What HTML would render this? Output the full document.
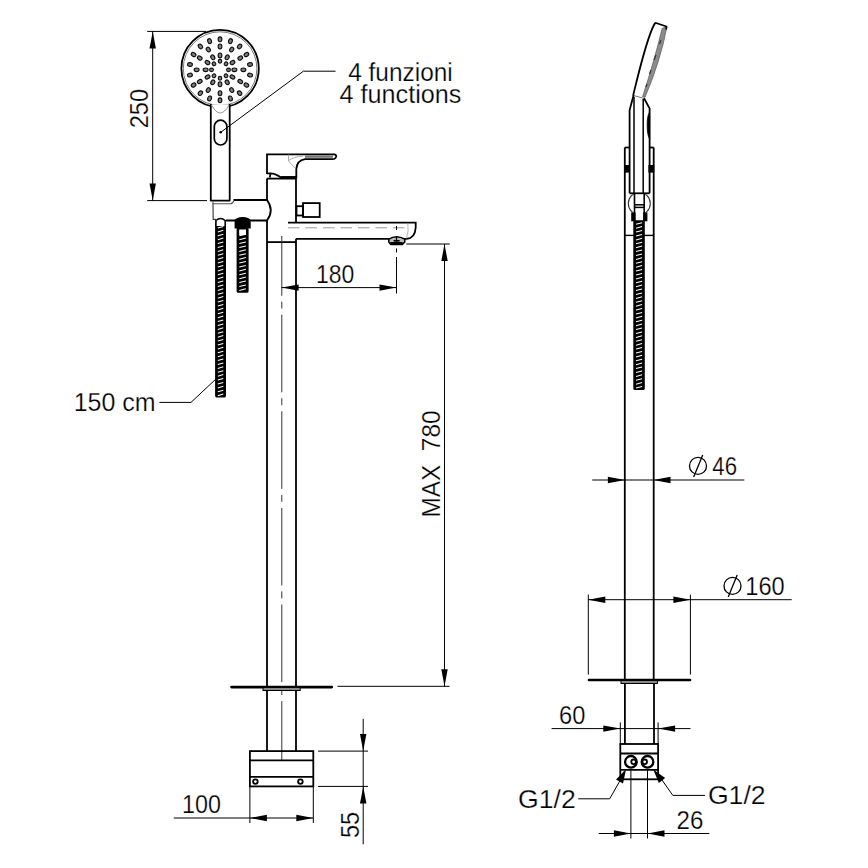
<!DOCTYPE html>
<html><head><meta charset="utf-8"><style>
html,body{margin:0;padding:0;background:#fff;width:868px;height:868px;overflow:hidden}
svg{display:block}
text{font-family:"Liberation Sans",sans-serif;fill:#000;stroke:#fff;stroke-width:0.25px}
</style></head><body>
<svg width="868" height="868" viewBox="0 0 868 868">
<rect width="868" height="868" fill="#fff"/>
<ellipse cx="228.50" cy="69.80" rx="1.9" ry="1.75" transform="rotate(-0.0 228.50 69.80)" fill="#808080" stroke="#111" stroke-width="1.15"/>
<ellipse cx="226.01" cy="63.79" rx="1.9" ry="1.75" transform="rotate(-45.0 226.01 63.79)" fill="#808080" stroke="#111" stroke-width="1.15"/>
<ellipse cx="220.00" cy="61.30" rx="1.9" ry="1.75" transform="rotate(-90.0 220.00 61.30)" fill="#808080" stroke="#111" stroke-width="1.15"/>
<ellipse cx="213.99" cy="63.79" rx="1.9" ry="1.75" transform="rotate(-135.0 213.99 63.79)" fill="#808080" stroke="#111" stroke-width="1.15"/>
<ellipse cx="211.50" cy="69.80" rx="1.9" ry="1.75" transform="rotate(-180.0 211.50 69.80)" fill="#808080" stroke="#111" stroke-width="1.15"/>
<ellipse cx="213.99" cy="75.81" rx="1.9" ry="1.75" transform="rotate(-225.0 213.99 75.81)" fill="#808080" stroke="#111" stroke-width="1.15"/>
<ellipse cx="220.00" cy="78.30" rx="1.9" ry="1.75" transform="rotate(-270.0 220.00 78.30)" fill="#808080" stroke="#111" stroke-width="1.15"/>
<ellipse cx="226.01" cy="75.81" rx="1.9" ry="1.75" transform="rotate(-315.0 226.01 75.81)" fill="#808080" stroke="#111" stroke-width="1.15"/>
<ellipse cx="234.40" cy="69.80" rx="2.45" ry="1.85" transform="rotate(-0.0 234.40 69.80)" fill="#808080" stroke="#111" stroke-width="1.15"/>
<ellipse cx="232.47" cy="62.60" rx="2.45" ry="1.85" transform="rotate(-30.0 232.47 62.60)" fill="#808080" stroke="#111" stroke-width="1.15"/>
<ellipse cx="227.20" cy="57.33" rx="2.45" ry="1.85" transform="rotate(-60.0 227.20 57.33)" fill="#808080" stroke="#111" stroke-width="1.15"/>
<ellipse cx="220.00" cy="55.40" rx="2.45" ry="1.85" transform="rotate(-90.0 220.00 55.40)" fill="#808080" stroke="#111" stroke-width="1.15"/>
<ellipse cx="212.80" cy="57.33" rx="2.45" ry="1.85" transform="rotate(-120.0 212.80 57.33)" fill="#808080" stroke="#111" stroke-width="1.15"/>
<ellipse cx="207.53" cy="62.60" rx="2.45" ry="1.85" transform="rotate(-150.0 207.53 62.60)" fill="#808080" stroke="#111" stroke-width="1.15"/>
<ellipse cx="205.60" cy="69.80" rx="2.45" ry="1.85" transform="rotate(-180.0 205.60 69.80)" fill="#808080" stroke="#111" stroke-width="1.15"/>
<ellipse cx="207.53" cy="77.00" rx="2.45" ry="1.85" transform="rotate(-210.0 207.53 77.00)" fill="#808080" stroke="#111" stroke-width="1.15"/>
<ellipse cx="212.80" cy="82.27" rx="2.45" ry="1.85" transform="rotate(-240.0 212.80 82.27)" fill="#808080" stroke="#111" stroke-width="1.15"/>
<ellipse cx="220.00" cy="84.20" rx="2.45" ry="1.85" transform="rotate(-270.0 220.00 84.20)" fill="#808080" stroke="#111" stroke-width="1.15"/>
<ellipse cx="227.20" cy="82.27" rx="2.45" ry="1.85" transform="rotate(-300.0 227.20 82.27)" fill="#808080" stroke="#111" stroke-width="1.15"/>
<ellipse cx="232.47" cy="77.00" rx="2.45" ry="1.85" transform="rotate(-330.0 232.47 77.00)" fill="#808080" stroke="#111" stroke-width="1.15"/>
<ellipse cx="243.40" cy="69.80" rx="2.45" ry="1.85" transform="rotate(-0.0 243.40 69.80)" fill="#808080" stroke="#111" stroke-width="1.15"/>
<ellipse cx="240.26" cy="58.10" rx="2.45" ry="1.85" transform="rotate(-30.0 240.26 58.10)" fill="#808080" stroke="#111" stroke-width="1.15"/>
<ellipse cx="231.70" cy="49.54" rx="2.45" ry="1.85" transform="rotate(-60.0 231.70 49.54)" fill="#808080" stroke="#111" stroke-width="1.15"/>
<ellipse cx="220.00" cy="46.40" rx="2.45" ry="1.85" transform="rotate(-90.0 220.00 46.40)" fill="#808080" stroke="#111" stroke-width="1.15"/>
<ellipse cx="208.30" cy="49.54" rx="2.45" ry="1.85" transform="rotate(-120.0 208.30 49.54)" fill="#808080" stroke="#111" stroke-width="1.15"/>
<ellipse cx="199.74" cy="58.10" rx="2.45" ry="1.85" transform="rotate(-150.0 199.74 58.10)" fill="#808080" stroke="#111" stroke-width="1.15"/>
<ellipse cx="196.60" cy="69.80" rx="2.45" ry="1.85" transform="rotate(-180.0 196.60 69.80)" fill="#808080" stroke="#111" stroke-width="1.15"/>
<ellipse cx="199.74" cy="81.50" rx="2.45" ry="1.85" transform="rotate(-210.0 199.74 81.50)" fill="#808080" stroke="#111" stroke-width="1.15"/>
<ellipse cx="208.30" cy="90.06" rx="2.45" ry="1.85" transform="rotate(-240.0 208.30 90.06)" fill="#808080" stroke="#111" stroke-width="1.15"/>
<ellipse cx="220.00" cy="93.20" rx="2.45" ry="1.85" transform="rotate(-270.0 220.00 93.20)" fill="#808080" stroke="#111" stroke-width="1.15"/>
<ellipse cx="231.70" cy="90.06" rx="2.45" ry="1.85" transform="rotate(-300.0 231.70 90.06)" fill="#808080" stroke="#111" stroke-width="1.15"/>
<ellipse cx="240.26" cy="81.50" rx="2.45" ry="1.85" transform="rotate(-330.0 240.26 81.50)" fill="#808080" stroke="#111" stroke-width="1.15"/>
<ellipse cx="250.04" cy="64.50" rx="2.45" ry="1.85" transform="rotate(-10.0 250.04 64.50)" fill="#808080" stroke="#111" stroke-width="1.15"/>
<ellipse cx="246.41" cy="54.55" rx="2.45" ry="1.85" transform="rotate(-30.0 246.41 54.55)" fill="#808080" stroke="#111" stroke-width="1.15"/>
<ellipse cx="239.61" cy="46.44" rx="2.45" ry="1.85" transform="rotate(-50.0 239.61 46.44)" fill="#808080" stroke="#111" stroke-width="1.15"/>
<ellipse cx="230.43" cy="41.14" rx="2.45" ry="1.85" transform="rotate(-70.0 230.43 41.14)" fill="#808080" stroke="#111" stroke-width="1.15"/>
<ellipse cx="220.00" cy="39.30" rx="2.45" ry="1.85" transform="rotate(-90.0 220.00 39.30)" fill="#808080" stroke="#111" stroke-width="1.15"/>
<ellipse cx="209.57" cy="41.14" rx="2.45" ry="1.85" transform="rotate(-110.0 209.57 41.14)" fill="#808080" stroke="#111" stroke-width="1.15"/>
<ellipse cx="200.39" cy="46.44" rx="2.45" ry="1.85" transform="rotate(-130.0 200.39 46.44)" fill="#808080" stroke="#111" stroke-width="1.15"/>
<ellipse cx="193.59" cy="54.55" rx="2.45" ry="1.85" transform="rotate(-150.0 193.59 54.55)" fill="#808080" stroke="#111" stroke-width="1.15"/>
<ellipse cx="189.96" cy="64.50" rx="2.45" ry="1.85" transform="rotate(-170.0 189.96 64.50)" fill="#808080" stroke="#111" stroke-width="1.15"/>
<ellipse cx="189.96" cy="75.10" rx="2.45" ry="1.85" transform="rotate(-190.0 189.96 75.10)" fill="#808080" stroke="#111" stroke-width="1.15"/>
<ellipse cx="193.59" cy="85.05" rx="2.45" ry="1.85" transform="rotate(-210.0 193.59 85.05)" fill="#808080" stroke="#111" stroke-width="1.15"/>
<ellipse cx="200.39" cy="93.16" rx="2.45" ry="1.85" transform="rotate(-230.0 200.39 93.16)" fill="#808080" stroke="#111" stroke-width="1.15"/>
<ellipse cx="209.57" cy="98.46" rx="2.45" ry="1.85" transform="rotate(-250.0 209.57 98.46)" fill="#808080" stroke="#111" stroke-width="1.15"/>
<ellipse cx="220.00" cy="100.30" rx="2.45" ry="1.85" transform="rotate(-270.0 220.00 100.30)" fill="#808080" stroke="#111" stroke-width="1.15"/>
<ellipse cx="230.43" cy="98.46" rx="2.45" ry="1.85" transform="rotate(-290.0 230.43 98.46)" fill="#808080" stroke="#111" stroke-width="1.15"/>
<ellipse cx="239.61" cy="93.16" rx="2.45" ry="1.85" transform="rotate(-310.0 239.61 93.16)" fill="#808080" stroke="#111" stroke-width="1.15"/>
<ellipse cx="246.41" cy="85.05" rx="2.45" ry="1.85" transform="rotate(-330.0 246.41 85.05)" fill="#808080" stroke="#111" stroke-width="1.15"/>
<ellipse cx="250.04" cy="75.10" rx="2.45" ry="1.85" transform="rotate(-350.0 250.04 75.10)" fill="#808080" stroke="#111" stroke-width="1.15"/>
<circle cx="220.1" cy="68.6" r="38.7" fill="none" stroke="#000" stroke-width="1.8"/>
<circle cx="220.1" cy="68.6" r="36.80" fill="none" stroke="#555" stroke-width="0.8"/>
<rect x="210.8" y="104.5" width="18.9" height="96.3" fill="#fff" stroke="none"/>
<line x1="210.8" y1="104" x2="210.8" y2="201" stroke="#000" stroke-width="1.8" />
<line x1="229.7" y1="104" x2="229.7" y2="201" stroke="#000" stroke-width="1.8" />
<path d="M211.5,105 Q220.2,121 229,105" fill="none" stroke="#888" stroke-width="0.9"/>
<rect x="214.3" y="120.2" width="12.6" height="24.8" rx="6.3" fill="none" stroke="#000" stroke-width="1.7"/>
<circle cx="220.7" cy="132.3" r="1.3" fill="#000"/>
<polyline points="220.7,132.3 303.4,71.2 335.6,71.2" fill="none" stroke="#000" stroke-width="1"/>
<line x1="147.2" y1="31.4" x2="206" y2="31.4" stroke="#000" stroke-width="1.0" />
<line x1="147.2" y1="200.6" x2="207" y2="200.6" stroke="#000" stroke-width="1.0" />
<line x1="152.7" y1="31.4" x2="152.7" y2="200.6" stroke="#000" stroke-width="1.0" />
<polygon points="152.70,31.40 149.50,48.40 155.90,48.40" fill="#000"/>
<polygon points="152.70,200.60 149.50,183.60 155.90,183.60" fill="#000"/>
<path d="M212.9,200 L267,200 Q274.5,210.3 267,220.5 L212.9,220.5 Z" fill="#fff" stroke="none"/>
<path d="M233.5,200 L267,200 Q274.5,210.3 267,220.5 L226,220.5" fill="none" stroke="#000" stroke-width="1.8"/>
<path d="M213,203.5 L213.2,219.3 L216,219.3" fill="none" stroke="#444" stroke-width="1.2"/>
<path d="M210.8,200.6 L229.7,200.6" stroke="#000" stroke-width="1.8" stroke-linecap="round"/>
<path d="M213,201.5 L213,203.8 L230.5,203.8 Q232.5,203.8 234,200.5" fill="none" stroke="#555" stroke-width="1.1"/>
<rect x="215.9" y="224" width="9.299999999999983" height="172.60000000000002" fill="#000" stroke="#000" stroke-width="1.6" rx="0.8"/>
<line x1="217.8" y1="228.00" x2="223.29999999999998" y2="226.40" stroke="#fff" stroke-width="1.05"/>
<line x1="217.8" y1="231.90" x2="223.29999999999998" y2="230.30" stroke="#fff" stroke-width="1.05"/>
<line x1="217.8" y1="235.80" x2="223.29999999999998" y2="234.20" stroke="#fff" stroke-width="1.05"/>
<line x1="217.8" y1="239.70" x2="223.29999999999998" y2="238.10" stroke="#fff" stroke-width="1.05"/>
<line x1="217.8" y1="243.60" x2="223.29999999999998" y2="242.00" stroke="#fff" stroke-width="1.05"/>
<line x1="217.8" y1="247.50" x2="223.29999999999998" y2="245.90" stroke="#fff" stroke-width="1.05"/>
<line x1="217.8" y1="251.40" x2="223.29999999999998" y2="249.80" stroke="#fff" stroke-width="1.05"/>
<line x1="217.8" y1="255.30" x2="223.29999999999998" y2="253.70" stroke="#fff" stroke-width="1.05"/>
<line x1="217.8" y1="259.20" x2="223.29999999999998" y2="257.60" stroke="#fff" stroke-width="1.05"/>
<line x1="217.8" y1="263.10" x2="223.29999999999998" y2="261.50" stroke="#fff" stroke-width="1.05"/>
<line x1="217.8" y1="267.00" x2="223.29999999999998" y2="265.40" stroke="#fff" stroke-width="1.05"/>
<line x1="217.8" y1="270.90" x2="223.29999999999998" y2="269.30" stroke="#fff" stroke-width="1.05"/>
<line x1="217.8" y1="274.80" x2="223.29999999999998" y2="273.20" stroke="#fff" stroke-width="1.05"/>
<line x1="217.8" y1="278.70" x2="223.29999999999998" y2="277.10" stroke="#fff" stroke-width="1.05"/>
<line x1="217.8" y1="282.60" x2="223.29999999999998" y2="281.00" stroke="#fff" stroke-width="1.05"/>
<line x1="217.8" y1="286.50" x2="223.29999999999998" y2="284.90" stroke="#fff" stroke-width="1.05"/>
<line x1="217.8" y1="290.40" x2="223.29999999999998" y2="288.80" stroke="#fff" stroke-width="1.05"/>
<line x1="217.8" y1="294.30" x2="223.29999999999998" y2="292.70" stroke="#fff" stroke-width="1.05"/>
<line x1="217.8" y1="298.20" x2="223.29999999999998" y2="296.60" stroke="#fff" stroke-width="1.05"/>
<line x1="217.8" y1="302.10" x2="223.29999999999998" y2="300.50" stroke="#fff" stroke-width="1.05"/>
<line x1="217.8" y1="306.00" x2="223.29999999999998" y2="304.40" stroke="#fff" stroke-width="1.05"/>
<line x1="217.8" y1="309.90" x2="223.29999999999998" y2="308.30" stroke="#fff" stroke-width="1.05"/>
<line x1="217.8" y1="313.80" x2="223.29999999999998" y2="312.20" stroke="#fff" stroke-width="1.05"/>
<line x1="217.8" y1="317.70" x2="223.29999999999998" y2="316.10" stroke="#fff" stroke-width="1.05"/>
<line x1="217.8" y1="321.60" x2="223.29999999999998" y2="320.00" stroke="#fff" stroke-width="1.05"/>
<line x1="217.8" y1="325.50" x2="223.29999999999998" y2="323.90" stroke="#fff" stroke-width="1.05"/>
<line x1="217.8" y1="329.40" x2="223.29999999999998" y2="327.80" stroke="#fff" stroke-width="1.05"/>
<line x1="217.8" y1="333.30" x2="223.29999999999998" y2="331.70" stroke="#fff" stroke-width="1.05"/>
<line x1="217.8" y1="337.20" x2="223.29999999999998" y2="335.60" stroke="#fff" stroke-width="1.05"/>
<line x1="217.8" y1="341.10" x2="223.29999999999998" y2="339.50" stroke="#fff" stroke-width="1.05"/>
<line x1="217.8" y1="345.00" x2="223.29999999999998" y2="343.40" stroke="#fff" stroke-width="1.05"/>
<line x1="217.8" y1="348.90" x2="223.29999999999998" y2="347.30" stroke="#fff" stroke-width="1.05"/>
<line x1="217.8" y1="352.80" x2="223.29999999999998" y2="351.20" stroke="#fff" stroke-width="1.05"/>
<line x1="217.8" y1="356.70" x2="223.29999999999998" y2="355.10" stroke="#fff" stroke-width="1.05"/>
<line x1="217.8" y1="360.60" x2="223.29999999999998" y2="359.00" stroke="#fff" stroke-width="1.05"/>
<line x1="217.8" y1="364.50" x2="223.29999999999998" y2="362.90" stroke="#fff" stroke-width="1.05"/>
<line x1="217.8" y1="368.40" x2="223.29999999999998" y2="366.80" stroke="#fff" stroke-width="1.05"/>
<line x1="217.8" y1="372.30" x2="223.29999999999998" y2="370.70" stroke="#fff" stroke-width="1.05"/>
<line x1="217.8" y1="376.20" x2="223.29999999999998" y2="374.60" stroke="#fff" stroke-width="1.05"/>
<line x1="217.8" y1="380.10" x2="223.29999999999998" y2="378.50" stroke="#fff" stroke-width="1.05"/>
<line x1="217.8" y1="384.00" x2="223.29999999999998" y2="382.40" stroke="#fff" stroke-width="1.05"/>
<line x1="217.8" y1="387.90" x2="223.29999999999998" y2="386.30" stroke="#fff" stroke-width="1.05"/>
<line x1="217.8" y1="391.80" x2="223.29999999999998" y2="390.20" stroke="#fff" stroke-width="1.05"/>
<line x1="217.8" y1="395.70" x2="223.29999999999998" y2="394.10" stroke="#fff" stroke-width="1.05"/>
<path d="M215.9,226 L215.9,220.5 Q220.5,216.5 225.2,220.5 L225.2,226" fill="#fff" stroke="#000" stroke-width="1.6"/>
<path d="M234.6,228.6 L234.6,220.5 Q236,217 242.6,217 Q249.3,217 250.7,220.5 L250.7,228.6 Z" fill="#000"/>
<rect x="237.4" y="228.6" width="10.400000000000006" height="63.400000000000006" fill="#000" stroke="#000" stroke-width="1.6" rx="0.8"/>
<line x1="239.3" y1="231.90" x2="245.9" y2="230.30" stroke="#fff" stroke-width="1.05"/>
<line x1="239.3" y1="235.80" x2="245.9" y2="234.20" stroke="#fff" stroke-width="1.05"/>
<line x1="239.3" y1="239.70" x2="245.9" y2="238.10" stroke="#fff" stroke-width="1.05"/>
<line x1="239.3" y1="243.60" x2="245.9" y2="242.00" stroke="#fff" stroke-width="1.05"/>
<line x1="239.3" y1="247.50" x2="245.9" y2="245.90" stroke="#fff" stroke-width="1.05"/>
<line x1="239.3" y1="251.40" x2="245.9" y2="249.80" stroke="#fff" stroke-width="1.05"/>
<line x1="239.3" y1="255.30" x2="245.9" y2="253.70" stroke="#fff" stroke-width="1.05"/>
<line x1="239.3" y1="259.20" x2="245.9" y2="257.60" stroke="#fff" stroke-width="1.05"/>
<line x1="239.3" y1="263.10" x2="245.9" y2="261.50" stroke="#fff" stroke-width="1.05"/>
<line x1="239.3" y1="267.00" x2="245.9" y2="265.40" stroke="#fff" stroke-width="1.05"/>
<line x1="239.3" y1="270.90" x2="245.9" y2="269.30" stroke="#fff" stroke-width="1.05"/>
<line x1="239.3" y1="274.80" x2="245.9" y2="273.20" stroke="#fff" stroke-width="1.05"/>
<line x1="239.3" y1="278.70" x2="245.9" y2="277.10" stroke="#fff" stroke-width="1.05"/>
<line x1="239.3" y1="282.60" x2="245.9" y2="281.00" stroke="#fff" stroke-width="1.05"/>
<line x1="239.3" y1="286.50" x2="245.9" y2="284.90" stroke="#fff" stroke-width="1.05"/>
<line x1="239.3" y1="290.40" x2="245.9" y2="288.80" stroke="#fff" stroke-width="1.05"/>
<rect x="239.2" y="229.5" width="6.8" height="5.5" fill="#fff"/>
<polyline points="215.5,379.4 191,402.4 159.4,402.4" fill="none" stroke="#000" stroke-width="1"/>
<path d="M267,174 L267,154.4 L334.5,154.4 Q337.5,155.5 335.5,158 Q334.5,159.2 332,159.2 L305,159.2 Q297,160.5 296.3,169 L296.3,178.6" fill="none" stroke="#000" stroke-width="1.8"/>
<path d="M305,156.6 L333,156.6" stroke="#777" stroke-width="2.4"/>
<path d="M267,173.4 L270.5,173.4 L269.8,177.5 M270.5,173.4 Q274,173 281,177.4 L296.3,177.4" fill="none" stroke="#000" stroke-width="1.8"/>
<path d="M281,177.4 L296.3,177.4" stroke="#000" stroke-width="2.6"/>
<path d="M288.5,154.5 L288.5,161 L295,168 M289,160.5 Q293,157 303,156" fill="none" stroke="#999" stroke-width="0.8"/>
<line x1="267" y1="178.6" x2="267" y2="200" stroke="#000" stroke-width="1.8" />
<line x1="267" y1="220.5" x2="267" y2="688" stroke="#000" stroke-width="1.8" />
<line x1="267" y1="178.6" x2="296.3" y2="178.6" stroke="#000" stroke-width="1.8" />
<line x1="296" y1="178.6" x2="296" y2="222.7" stroke="#000" stroke-width="1.8" />
<line x1="267" y1="242.1" x2="296" y2="242.1" stroke="#000" stroke-width="1.8" />
<line x1="296" y1="238.8" x2="296" y2="688" stroke="#000" stroke-width="1.8" />
<rect x="296.5" y="206.2" width="6.5" height="9.3" fill="none" stroke="#000" stroke-width="1.8"/>
<rect x="303" y="203.1" width="16.7" height="13.9" fill="none" stroke="#000" stroke-width="1.8"/>
<path d="M288,222.7 L415.7,222.7 L415.7,227.5 Q415,238.5 406.5,238.8 L296,238.8" fill="none" stroke="#000" stroke-width="1.8"/>
<path d="M288,227.8 L408,227.8" stroke="#999" stroke-width="1" stroke-dasharray="11.5,6"/>
<path d="M407.8,223 Q409,231 406.5,238.5" fill="none" stroke="#999" stroke-width="0.7"/>
<path d="M388.8,239.2 Q396.5,234.2 404.8,239.2 L404.8,242 L402.4,244.4 L390.6,244.4 L388.8,242 Z" fill="#bbb" stroke="#000" stroke-width="1.5" stroke-linejoin="round"/>
<rect x="390.4" y="242" width="12.2" height="2.6" fill="#000"/>
<rect x="393.6" y="240" width="6" height="1.6" fill="#000"/>
<line x1="396.5" y1="236.5" x2="396.5" y2="242" stroke="#000" stroke-width="1.2" />
<line x1="396.5" y1="248.5" x2="396.5" y2="252.5" stroke="#000" stroke-width="1" />
<line x1="396.5" y1="257" x2="396.5" y2="293.5" stroke="#000" stroke-width="1" />
<line x1="396.5" y1="226" x2="396.5" y2="230" stroke="#000" stroke-width="1" />
<line x1="281.8" y1="236" x2="281.8" y2="760.4" stroke="#333" stroke-width="1" stroke-dasharray="77.6,5.9,7,6.1" stroke-dashoffset="17.9"/>
<line x1="281.6" y1="287.6" x2="396.5" y2="287.6" stroke="#000" stroke-width="1.0" />
<polygon points="281.60,287.60 298.60,284.40 298.60,290.80" fill="#000"/>
<polygon points="396.50,287.60 379.50,284.40 379.50,290.80" fill="#000"/>
<line x1="406.3" y1="244" x2="449.7" y2="244" stroke="#555" stroke-width="1.4" />
<line x1="337.5" y1="686.3" x2="449.5" y2="686.3" stroke="#000" stroke-width="1.0" />
<line x1="444.5" y1="244" x2="444.5" y2="686.3" stroke="#000" stroke-width="1.0" />
<polygon points="444.50,244.00 441.30,261.00 447.70,261.00" fill="#000"/>
<polygon points="444.50,686.30 441.30,669.30 447.70,669.30" fill="#000"/>
<line x1="231.5" y1="687.1" x2="331.8" y2="687.1" stroke="#000" stroke-width="2.6" stroke-linecap="round"/>
<rect x="263" y="687.5" width="37.2" height="3" fill="#888" stroke="#000" stroke-width="1"/>
<line x1="267" y1="690.5" x2="267" y2="751" stroke="#000" stroke-width="1.8" />
<line x1="296" y1="690.5" x2="296" y2="751" stroke="#000" stroke-width="1.8" />
<rect x="249.9" y="751.1" width="63.4" height="35.3" fill="none" stroke="#000" stroke-width="1.8"/>
<line x1="249.9" y1="760.3" x2="313.3" y2="760.3" stroke="#000" stroke-width="1.8" />
<line x1="249.9" y1="776.9" x2="313.3" y2="776.9" stroke="#000" stroke-width="1.8" />
<circle cx="255.4" cy="781.6" r="2.3" fill="none" stroke="#000" stroke-width="1.8"/>
<circle cx="300.4" cy="781.6" r="2.3" fill="none" stroke="#000" stroke-width="1.8"/>
<line x1="249.9" y1="786.4" x2="249.9" y2="823" stroke="#000" stroke-width="1.0" />
<line x1="313.3" y1="786.4" x2="313.3" y2="823" stroke="#000" stroke-width="1.0" />
<line x1="173.8" y1="818" x2="313.3" y2="818" stroke="#000" stroke-width="1.0" />
<polygon points="249.90,818.00 266.90,814.80 266.90,821.20" fill="#000"/>
<polygon points="313.30,818.00 296.30,814.80 296.30,821.20" fill="#000"/>
<line x1="318" y1="751.1" x2="368" y2="751.1" stroke="#000" stroke-width="1.0" />
<line x1="318" y1="786.4" x2="368" y2="786.4" stroke="#000" stroke-width="1.0" />
<line x1="363.2" y1="718.8" x2="363.2" y2="844.3" stroke="#000" stroke-width="1.0" />
<polygon points="363.20,751.10 360.00,734.10 366.40,734.10" fill="#000"/>
<polygon points="363.20,786.40 360.00,803.40 366.40,803.40" fill="#000"/>
<path d="M655.9,23.1 L666.7,26.5 Q660.2,60.2 644.8,97 L633.1,95.6 C637,80 646,40 654.2,24.5 Q654.9,23.1 656,23 Z" fill="#fff" stroke="none"/>
<path d="M666.9,27 Q660.6,60.5 645,97.3 L642.6,96.8 Q654.8,59 662.2,28.2 Z" fill="#8c8c8c" stroke="#555" stroke-width="0.7"/>
<path d="M633.1,95.6 C637,80 646,40 654.2,24.5 Q654.9,23.1 656,23 L666.5,26.5 L666,29.5" fill="none" stroke="#000" stroke-width="1.8" stroke-linejoin="round"/>
<path d="M661,40 L659.5,44 M656,55 L654,60 M651,70 L649.5,74 M647,84 L646,87" stroke="#333" stroke-width="1.2"/>
<line x1="633.8" y1="95.6" x2="644.5" y2="98.5" stroke="#777" stroke-width="1" />
<path d="M633.6,95.3 L629.6,110 L629.6,193.2 M644,98.2 L649.6,108.4 L649.6,193.2" fill="none" stroke="#000" stroke-width="1.8"/>
<line x1="634" y1="97" x2="634" y2="193.2" stroke="#000" stroke-width="1.5" />
<line x1="643.2" y1="99" x2="643.2" y2="193.2" stroke="#000" stroke-width="1.5" />
<path d="M649.6,112 Q647,116 647.2,125.5 Q647.2,135 649.6,139 Z" fill="#000" stroke="#000" stroke-width="0.8"/>
<line x1="624.8" y1="147.5" x2="624.8" y2="680.5" stroke="#000" stroke-width="1.8" />
<line x1="653.7" y1="147.5" x2="653.7" y2="680.5" stroke="#000" stroke-width="1.8" />
<line x1="624.8" y1="147.5" x2="629.7" y2="147.5" stroke="#000" stroke-width="1.8" />
<line x1="649.6" y1="147.5" x2="653.7" y2="147.5" stroke="#000" stroke-width="1.8" />
<rect x="624.1" y="165" width="5.8" height="7.6" fill="#000"/>
<rect x="648.4" y="165" width="5.8" height="7.6" fill="#000"/>
<line x1="629.6" y1="193.3" x2="649.6" y2="193.3" stroke="#000" stroke-width="1.8" />
<defs><clipPath id="bc"><rect x="620" y="194.2" width="40" height="18.3"/></clipPath></defs>
<circle cx="639.3" cy="203.5" r="11" fill="none" stroke="#333" stroke-width="1.1" clip-path="url(#bc)"/>
<line x1="634.5" y1="193.3" x2="634.5" y2="221.3" stroke="#000" stroke-width="1.6" />
<line x1="644.2" y1="193.3" x2="644.2" y2="221.3" stroke="#000" stroke-width="1.6" />
<line x1="634.5" y1="204.8" x2="644.2" y2="204.8" stroke="#000" stroke-width="1.5" />
<line x1="634.5" y1="207.4" x2="644.2" y2="207.4" stroke="#000" stroke-width="1.5" />
<rect x="631.2" y="212.4" width="4.4" height="8.9" fill="#000"/>
<rect x="643.2" y="212.4" width="4.2" height="8.9" fill="#000"/>
<line x1="624.8" y1="235.4" x2="653.7" y2="235.4" stroke="#000" stroke-width="1.4" />
<rect x="634.1" y="221" width="9.899999999999977" height="168.2" fill="#000" stroke="#000" stroke-width="1.6" rx="0.8"/>
<line x1="636.0" y1="224.30" x2="642.1" y2="222.70" stroke="#fff" stroke-width="1.05"/>
<line x1="636.0" y1="228.20" x2="642.1" y2="226.60" stroke="#fff" stroke-width="1.05"/>
<line x1="636.0" y1="232.10" x2="642.1" y2="230.50" stroke="#fff" stroke-width="1.05"/>
<line x1="636.0" y1="236.00" x2="642.1" y2="234.40" stroke="#fff" stroke-width="1.05"/>
<line x1="636.0" y1="239.90" x2="642.1" y2="238.30" stroke="#fff" stroke-width="1.05"/>
<line x1="636.0" y1="243.80" x2="642.1" y2="242.20" stroke="#fff" stroke-width="1.05"/>
<line x1="636.0" y1="247.70" x2="642.1" y2="246.10" stroke="#fff" stroke-width="1.05"/>
<line x1="636.0" y1="251.60" x2="642.1" y2="250.00" stroke="#fff" stroke-width="1.05"/>
<line x1="636.0" y1="255.50" x2="642.1" y2="253.90" stroke="#fff" stroke-width="1.05"/>
<line x1="636.0" y1="259.40" x2="642.1" y2="257.80" stroke="#fff" stroke-width="1.05"/>
<line x1="636.0" y1="263.30" x2="642.1" y2="261.70" stroke="#fff" stroke-width="1.05"/>
<line x1="636.0" y1="267.20" x2="642.1" y2="265.60" stroke="#fff" stroke-width="1.05"/>
<line x1="636.0" y1="271.10" x2="642.1" y2="269.50" stroke="#fff" stroke-width="1.05"/>
<line x1="636.0" y1="275.00" x2="642.1" y2="273.40" stroke="#fff" stroke-width="1.05"/>
<line x1="636.0" y1="278.90" x2="642.1" y2="277.30" stroke="#fff" stroke-width="1.05"/>
<line x1="636.0" y1="282.80" x2="642.1" y2="281.20" stroke="#fff" stroke-width="1.05"/>
<line x1="636.0" y1="286.70" x2="642.1" y2="285.10" stroke="#fff" stroke-width="1.05"/>
<line x1="636.0" y1="290.60" x2="642.1" y2="289.00" stroke="#fff" stroke-width="1.05"/>
<line x1="636.0" y1="294.50" x2="642.1" y2="292.90" stroke="#fff" stroke-width="1.05"/>
<line x1="636.0" y1="298.40" x2="642.1" y2="296.80" stroke="#fff" stroke-width="1.05"/>
<line x1="636.0" y1="302.30" x2="642.1" y2="300.70" stroke="#fff" stroke-width="1.05"/>
<line x1="636.0" y1="306.20" x2="642.1" y2="304.60" stroke="#fff" stroke-width="1.05"/>
<line x1="636.0" y1="310.10" x2="642.1" y2="308.50" stroke="#fff" stroke-width="1.05"/>
<line x1="636.0" y1="314.00" x2="642.1" y2="312.40" stroke="#fff" stroke-width="1.05"/>
<line x1="636.0" y1="317.90" x2="642.1" y2="316.30" stroke="#fff" stroke-width="1.05"/>
<line x1="636.0" y1="321.80" x2="642.1" y2="320.20" stroke="#fff" stroke-width="1.05"/>
<line x1="636.0" y1="325.70" x2="642.1" y2="324.10" stroke="#fff" stroke-width="1.05"/>
<line x1="636.0" y1="329.60" x2="642.1" y2="328.00" stroke="#fff" stroke-width="1.05"/>
<line x1="636.0" y1="333.50" x2="642.1" y2="331.90" stroke="#fff" stroke-width="1.05"/>
<line x1="636.0" y1="337.40" x2="642.1" y2="335.80" stroke="#fff" stroke-width="1.05"/>
<line x1="636.0" y1="341.30" x2="642.1" y2="339.70" stroke="#fff" stroke-width="1.05"/>
<line x1="636.0" y1="345.20" x2="642.1" y2="343.60" stroke="#fff" stroke-width="1.05"/>
<line x1="636.0" y1="349.10" x2="642.1" y2="347.50" stroke="#fff" stroke-width="1.05"/>
<line x1="636.0" y1="353.00" x2="642.1" y2="351.40" stroke="#fff" stroke-width="1.05"/>
<line x1="636.0" y1="356.90" x2="642.1" y2="355.30" stroke="#fff" stroke-width="1.05"/>
<line x1="636.0" y1="360.80" x2="642.1" y2="359.20" stroke="#fff" stroke-width="1.05"/>
<line x1="636.0" y1="364.70" x2="642.1" y2="363.10" stroke="#fff" stroke-width="1.05"/>
<line x1="636.0" y1="368.60" x2="642.1" y2="367.00" stroke="#fff" stroke-width="1.05"/>
<line x1="636.0" y1="372.50" x2="642.1" y2="370.90" stroke="#fff" stroke-width="1.05"/>
<line x1="636.0" y1="376.40" x2="642.1" y2="374.80" stroke="#fff" stroke-width="1.05"/>
<line x1="636.0" y1="380.30" x2="642.1" y2="378.70" stroke="#fff" stroke-width="1.05"/>
<line x1="636.0" y1="384.20" x2="642.1" y2="382.60" stroke="#fff" stroke-width="1.05"/>
<line x1="636.0" y1="388.10" x2="642.1" y2="386.50" stroke="#fff" stroke-width="1.05"/>
<line x1="592.2" y1="480" x2="744.3" y2="480" stroke="#000" stroke-width="1.0" />
<polygon points="624.90,480.00 607.90,476.80 607.90,483.20" fill="#000"/>
<polygon points="653.50,480.00 670.50,476.80 670.50,483.20" fill="#000"/>
<line x1="588.3" y1="594.6" x2="588.3" y2="674.6" stroke="#000" stroke-width="1.0" />
<line x1="690.4" y1="594.6" x2="690.4" y2="674.6" stroke="#000" stroke-width="1.0" />
<line x1="588.3" y1="599.7" x2="791.7" y2="599.7" stroke="#000" stroke-width="1.0" />
<polygon points="588.30,599.70 605.30,596.50 605.30,602.90" fill="#000"/>
<polygon points="690.40,599.70 673.40,596.50 673.40,602.90" fill="#000"/>
<circle cx="698" cy="465.9" r="8.50" fill="none" stroke="#000" stroke-width="1.3"/>
<line x1="693.70" y1="477.00" x2="702.70" y2="455.00" stroke="#000" stroke-width="1.3"/>
<circle cx="732.5" cy="585.9" r="8.50" fill="none" stroke="#000" stroke-width="1.3"/>
<line x1="728.20" y1="597.00" x2="737.20" y2="575.00" stroke="#000" stroke-width="1.3"/>
<line x1="589" y1="680" x2="690" y2="680" stroke="#000" stroke-width="2.6" stroke-linecap="round"/>
<rect x="621" y="680.5" width="36.4" height="3" fill="#888" stroke="#000" stroke-width="1"/>
<line x1="624.9" y1="683.5" x2="624.9" y2="744" stroke="#000" stroke-width="1.8" />
<line x1="654" y1="683.5" x2="654" y2="744" stroke="#000" stroke-width="1.8" />
<line x1="551.6" y1="728.6" x2="690.5" y2="728.6" stroke="#000" stroke-width="1.0" />
<line x1="620.3" y1="722.4" x2="620.3" y2="745" stroke="#000" stroke-width="1.0" />
<line x1="658.1" y1="722.4" x2="658.1" y2="745" stroke="#000" stroke-width="1.0" />
<polygon points="620.30,728.60 603.30,725.40 603.30,731.80" fill="#000"/>
<polygon points="658.10,728.60 675.10,725.40 675.10,731.80" fill="#000"/>
<rect x="620.3" y="744" width="37.8" height="35.3" fill="none" stroke="#000" stroke-width="1.8"/>
<line x1="620.3" y1="753.5" x2="658.1" y2="753.5" stroke="#000" stroke-width="1.8" />
<line x1="620.3" y1="769.8" x2="658.1" y2="769.8" stroke="#000" stroke-width="1.8" />
<circle cx="630.9" cy="761.8" r="5.8" fill="#fff" stroke="#000" stroke-width="2.3"/>
<circle cx="633.6" cy="761.8" r="2.3" fill="none" stroke="#000" stroke-width="1.8"/>
<circle cx="647.5" cy="761.8" r="5.8" fill="#fff" stroke="#000" stroke-width="2.3"/>
<circle cx="644.7" cy="761.8" r="2.3" fill="none" stroke="#000" stroke-width="1.8"/>
<line x1="621" y1="775" x2="624" y2="771" stroke="#888" stroke-width="0.8" />
<line x1="657" y1="775" x2="654" y2="771" stroke="#888" stroke-width="0.8" />
<line x1="630.9" y1="770" x2="630.9" y2="838.5" stroke="#000" stroke-width="1.0" />
<line x1="647.5" y1="770" x2="647.5" y2="838.5" stroke="#000" stroke-width="1.0" />
<line x1="598.7" y1="833.5" x2="709.3" y2="833.5" stroke="#000" stroke-width="1.0" />
<polygon points="630.90,833.50 613.90,830.30 613.90,836.70" fill="#000"/>
<polygon points="647.50,833.50 664.50,830.30 664.50,836.70" fill="#000"/>
<polygon points="626,769.5 615.98,779.59 623.02,783.41" fill="#000"/>
<polyline points="619.8,781 609.7,798.8 578.2,798.8" fill="none" stroke="#000" stroke-width="1"/>
<polygon points="653.3,769.5 658.86,782.98 665.14,778.02" fill="#000"/>
<polyline points="662,780 672.8,795.4 705.1,795.4" fill="none" stroke="#000" stroke-width="1"/>
<text x="348.2" y="80.8" font-size="25" textLength="104.62" lengthAdjust="spacingAndGlyphs">4 funzioni</text>
<text x="339.5" y="102.9" font-size="25" textLength="121.98" lengthAdjust="spacingAndGlyphs">4 functions</text>
<text x="0" y="0" transform="translate(147.8,128.35) rotate(-90)" font-size="25" textLength="39.39" lengthAdjust="spacingAndGlyphs">250</text>
<text x="73.7" y="411.4" font-size="25" textLength="81.91" lengthAdjust="spacingAndGlyphs">150 cm</text>
<text x="315.9" y="282.9" font-size="25" textLength="38.39" lengthAdjust="spacingAndGlyphs">180</text>
<text x="0" y="0" transform="translate(440.2,517.6) rotate(-90)" font-size="25" textLength="107.14" lengthAdjust="spacingAndGlyphs">MAX&#160;&#160;780</text>
<text x="182.0" y="812.8" font-size="25" textLength="38.89" lengthAdjust="spacingAndGlyphs">100</text>
<text x="0" y="0" transform="translate(358.7,838.1) rotate(-90)" font-size="25" textLength="26.28" lengthAdjust="spacingAndGlyphs">55</text>
<text x="712.3" y="474.5" font-size="25" textLength="24.7" lengthAdjust="spacingAndGlyphs">46</text>
<text x="745.3" y="594.6" font-size="25" textLength="39.4" lengthAdjust="spacingAndGlyphs">160</text>
<text x="559.0" y="723.9" font-size="25" textLength="26.27" lengthAdjust="spacingAndGlyphs">60</text>
<text x="676.5" y="829.4" font-size="25" textLength="26.8" lengthAdjust="spacingAndGlyphs">26</text>
<text x="518.0" y="807.7" font-size="25" textLength="57.77" lengthAdjust="spacingAndGlyphs">G1/2</text>
<text x="707.9" y="804.2" font-size="25" textLength="57.76" lengthAdjust="spacingAndGlyphs">G1/2</text>
</svg>
</body></html>
